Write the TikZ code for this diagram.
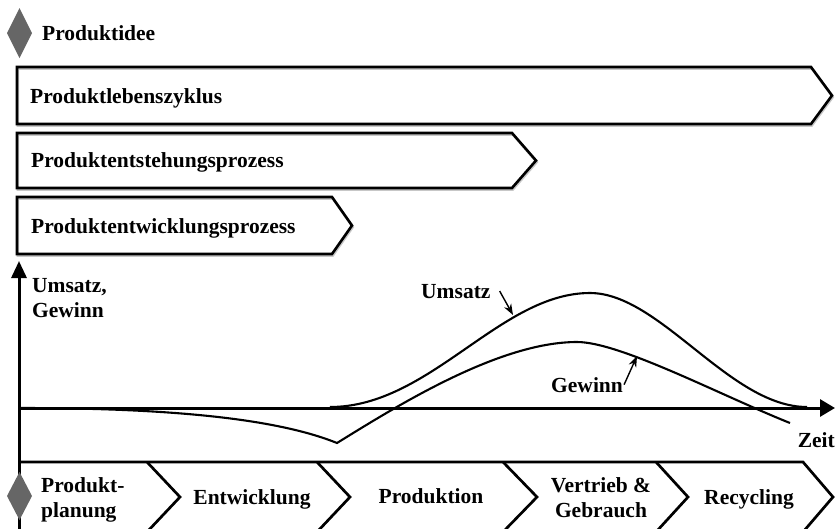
\documentclass[tikz,border=0pt]{standalone}
\usepackage{fontspec}
\setmainfont{Liberation Serif}
\usetikzlibrary{arrows.meta}
\begin{document}
\begin{tikzpicture}[x=1pt,y=-1pt,
  lbl/.style={inner sep=0pt, font=\fontsize{21.5}{25}\selectfont\bfseries},
  boxline/.style={line width=2.6pt, line join=miter},
  boxshadow/.style={line width=2.5pt, draw=black!22},
  axis/.style={line width=3pt},
  curve/.style={line width=2.1pt},
  band/.style={line width=2.7pt},
  pointer/.style={line width=1.4pt, -{Stealth[length=11pt,width=8pt]}},
  marker/.style={fill=black!60, draw=none}
]
\useasboundingbox (0,0) rectangle (835,528);

% process boxes (shadow, then outline)
\draw[boxshadow, shift={(0.8,1.5)}] (17,67) -- (811,67) -- (832,95.5) -- (811,124) -- (17,124) -- cycle;
\draw[boxshadow, shift={(0.8,1.5)}] (17,133) -- (512,133) -- (536,160.5) -- (512,188) -- (17,188) -- cycle;
\draw[boxshadow, shift={(0.8,1.5)}] (17,197) -- (332,197) -- (352,225.5) -- (332,254) -- (17,254) -- cycle;
\draw[boxline] (17,67) -- (811,67) -- (832,95.5) -- (811,124) -- (17,124) -- cycle;
\draw[boxline] (17,133) -- (512,133) -- (536,160.5) -- (512,188) -- (17,188) -- cycle;
\draw[boxline] (17,197) -- (332,197) -- (352,225.5) -- (332,254) -- (17,254) -- cycle;

\node[lbl, anchor=base west] (idee) at (42,40) {Produktidee};
\node[lbl, anchor=base west] (plz) at (30,103) {Produktlebenszyklus};
\node[lbl, anchor=base west] (pep) at (31,167) {Produktentstehungsprozess};
\node[lbl, anchor=base west] (pew) at (31,233) {Produktentwicklungsprozess};

% axes
\coordinate (O) at (19,408);
\coordinate (ytop) at (19,261);
\coordinate (ybot) at (19,532);
\coordinate (xend) at (835,408);
\draw[axis, -{Triangle[length=17pt,width=15pt]}] (ybot) -- (ytop);
\draw[axis, -{Triangle[length=15pt,width=17pt]}] (O) -- (xend);

% bottom phase band
\draw[band] (19,462) -- (803,462) -- (833,497) -- (803,532);
\draw[band] (147,462) -- (180,497) -- (147,532);
\draw[band] (317,462) -- (350,497) -- (317,532);
\draw[band] (503,462) -- (537,497) -- (503,532);
\draw[band] (656,462) -- (688,497) -- (656,532);

% milestone diamonds
\fill[marker] (19.5,8) -- (32,33) -- (19.5,58) -- (7,33) -- cycle;
\fill[marker] (19.5,472) -- (32,496) -- (19.5,520) -- (7,496) -- cycle;

% curves
\draw[curve] (330,407) .. controls (430,407) and (500,293) .. (590,293)
  .. controls (660,293) and (730,407) .. (807,407);
\draw[curve] (19,408) .. controls (180,408) and (280,420) .. (337,443)
  .. controls (400,404) and (500,342) .. (577,342)
  .. controls (620,342) and (720,395) .. (790,423);

% labels
\node[lbl, anchor=base west] (ylbl) at (32,292) {\begin{tabular}[t]{@{}l@{}}Umsatz,\\Gewinn\end{tabular}};
\node[lbl, anchor=base east] (zeit) at (835,447) {Zeit};
\node[lbl, anchor=base west] (ulbl) at (421,298) {Umsatz};
\node[lbl, anchor=base west] (glbl) at (551,392) {Gewinn};
\coordinate (utip) at (513,315);
\coordinate (gtip) at (637,356);
\draw[pointer] (ulbl.east) ++(9,0) -- (utip);
\draw[pointer] (glbl.east) ++(1,0) -- (gtip);

\node[lbl, anchor=base west] (plan) at (41,492) {\begin{tabular}[t]{@{}l@{}}Produkt-\\planung\end{tabular}};
\node[lbl, anchor=base] (entw) at (252,504) {Entwicklung};
\node[lbl, anchor=base] (prod) at (431,503) {Produktion};
\node[lbl, anchor=base] (vert) at (601,492) {\begin{tabular}[t]{@{}c@{}}Vertrieb \&\\Gebrauch\end{tabular}};
\node[lbl, anchor=base] (recy) at (749,504) {Recycling};
\end{tikzpicture}
\end{document}
